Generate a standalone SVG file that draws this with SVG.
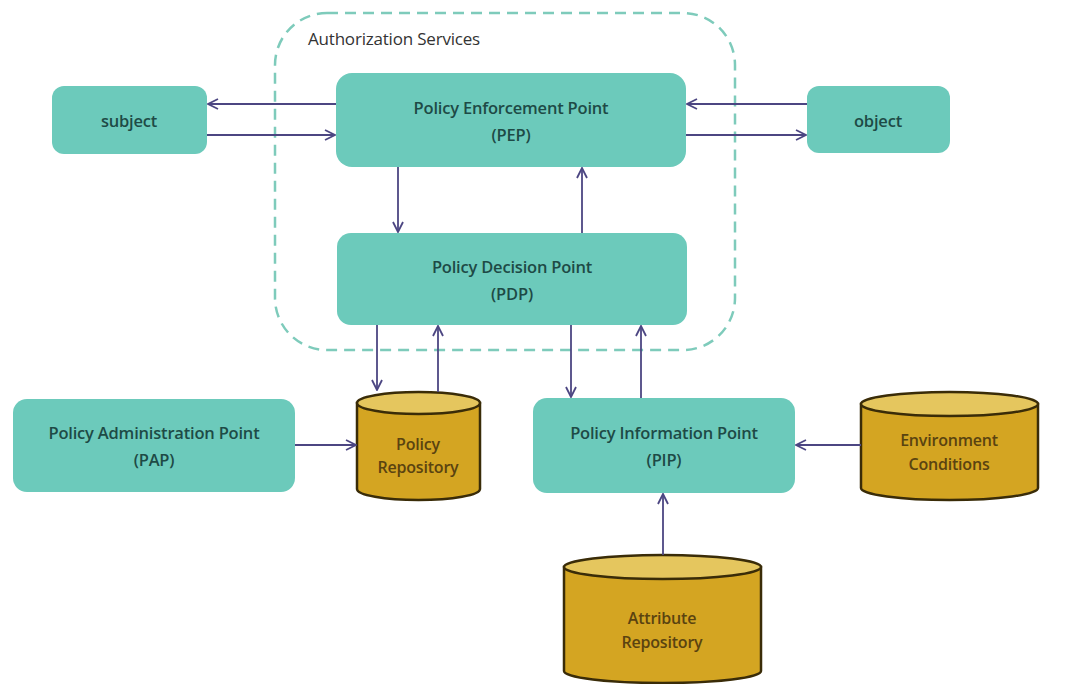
<svg xmlns="http://www.w3.org/2000/svg" width="1068" height="684" viewBox="0 0 1068 684">
  <style>
    .box { fill: #6ccabb; }
    .lbl { font-family: "Open Sans", "Liberation Sans", sans-serif; font-size: 16.5px; fill: #1e4a46; text-anchor: middle; font-weight: 600; letter-spacing: -0.2px; }
    .dbl { font-family: "Open Sans", "Liberation Sans", sans-serif; font-size: 16px; fill: #5a4310; text-anchor: middle; font-weight: 600; letter-spacing: -0.2px; }
    .body { fill: #d4a522; stroke: #3a2c08; stroke-width: 2.5; }
    .lid { fill: #e5c65e; stroke: #3a2c08; stroke-width: 2.5; }
    .conn line { stroke: #4c4682; stroke-width: 1.8; fill: none; marker-end: url(#arr); }
    .group-frame { fill: none; stroke: #7ecbbb; stroke-width: 2.5; stroke-dasharray: 11 7; }
  </style>
  <defs>
    <marker id="arr" viewBox="0 0 12 12" refX="11" refY="6" markerWidth="12" markerHeight="12" markerUnits="userSpaceOnUse" orient="auto">
      <path d="M1,1 L11,6 L1,11" fill="none" stroke="#4c4682" stroke-width="1.8"/>
    </marker>
  </defs>
  <rect width="1068" height="684" fill="#ffffff"/>

  <!-- Authorization Services boundary -->
  <g id="authorization-services">
    <rect class="group-frame" x="275" y="13" width="460" height="337" rx="52"/>
    <text x="308" y="45" font-family="'Open Sans', 'Liberation Sans', sans-serif" font-size="17" letter-spacing="-0.2" fill="#333333">Authorization Services</text>
  </g>

  <g id="subject">
    <rect class="box" x="52" y="86" width="155" height="68" rx="12"/>
    <text class="lbl" x="129" y="127">subject</text>
  </g>

  <g id="object">
    <rect class="box" x="807" y="86" width="143" height="67" rx="12"/>
    <text class="lbl" x="878" y="127">object</text>
  </g>

  <g id="pep">
    <rect class="box" x="336" y="73" width="350" height="94" rx="16"/>
    <text class="lbl" x="511" y="114">Policy Enforcement Point</text>
    <text class="lbl" x="511" y="141">(PEP)</text>
  </g>

  <g id="pdp">
    <rect class="box" x="337" y="233" width="350" height="92" rx="14"/>
    <text class="lbl" x="512" y="273">Policy Decision Point</text>
    <text class="lbl" x="512" y="300">(PDP)</text>
  </g>

  <g id="pap">
    <rect class="box" x="13" y="399" width="282" height="93" rx="14"/>
    <text class="lbl" x="154" y="439">Policy Administration Point</text>
    <text class="lbl" x="154" y="466">(PAP)</text>
  </g>

  <g id="pip">
    <rect class="box" x="533" y="398" width="262" height="95" rx="14"/>
    <text class="lbl" x="664" y="439">Policy Information Point</text>
    <text class="lbl" x="664" y="466">(PIP)</text>
  </g>

  <g id="policy-repository">
    <path class="body" d="M357,403 L357,489 A61.5,11 0 0 0 480,489 L480,403 Z"/>
    <ellipse class="lid" cx="418.5" cy="403" rx="61.5" ry="11"/>
    <text class="dbl" x="418" y="450">Policy</text>
    <text class="dbl" x="418" y="473">Repository</text>
  </g>

  <g id="environment-conditions">
    <path class="body" d="M861,404 L861,488 A88.5,12 0 0 0 1038,488 L1038,404 Z"/>
    <ellipse class="lid" cx="949.5" cy="404" rx="88.5" ry="12"/>
    <text class="dbl" x="949" y="446">Environment</text>
    <text class="dbl" x="949" y="470">Conditions</text>
  </g>

  <g id="attribute-repository">
    <path class="body" d="M564,567 L564,671 A98.5,12 0 0 0 761,671 L761,567 Z"/>
    <ellipse class="lid" cx="662.5" cy="567" rx="98.5" ry="12"/>
    <text class="dbl" x="662" y="624">Attribute</text>
    <text class="dbl" x="662" y="648">Repository</text>
  </g>

  <!-- Connectors -->
  <g id="connectors" class="conn">
    <line x1="336" y1="104" x2="208" y2="104"/>
    <line x1="207" y1="135" x2="335" y2="135"/>
    <line x1="807" y1="104" x2="687" y2="104"/>
    <line x1="686" y1="135" x2="806" y2="135"/>
    <line x1="398" y1="167" x2="398" y2="232"/>
    <line x1="582" y1="233" x2="582" y2="168"/>
    <line x1="377" y1="325" x2="377" y2="390"/>
    <line x1="438" y1="392" x2="438" y2="326"/>
    <line x1="571" y1="325" x2="571" y2="397"/>
    <line x1="641" y1="398" x2="641" y2="326"/>
    <line x1="295" y1="445" x2="356" y2="445"/>
    <line x1="861" y1="445" x2="796" y2="445"/>
    <line x1="663" y1="555" x2="663" y2="494"/>
  </g>
</svg>
